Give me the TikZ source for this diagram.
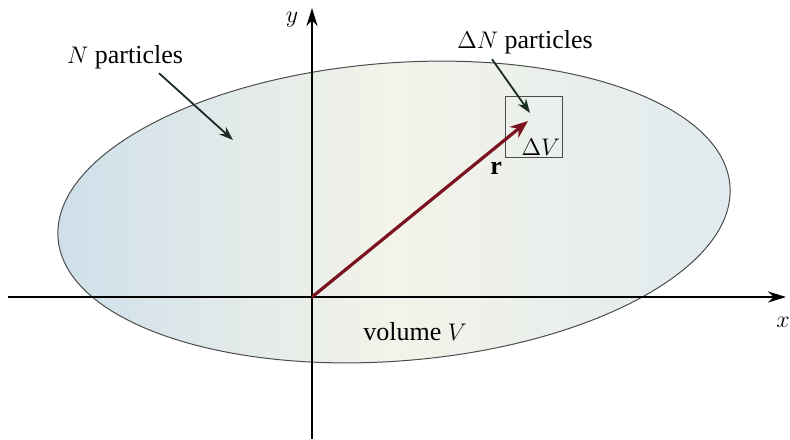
\documentclass[tikz,border=0pt]{standalone}
\usepackage{fontspec}
\setmainfont{Liberation Serif}
\usetikzlibrary{arrows.meta}
\definecolor{vecred}{RGB}{122,18,32}
\definecolor{leftblue}{RGB}{206,223,234}
\definecolor{midcream}{RGB}{243,243,233}
\definecolor{rightblue}{RGB}{224,234,238}
\definecolor{pointer}{RGB}{25,45,35}
\begin{document}
\begin{tikzpicture}[x=0.5pt,y=-0.5pt]
\tikzstyle{lbl} = [font=\fontsize{13}{15}\selectfont,inner sep=1pt] %texte
\tikzstyle{axe} = [line width=1.3pt,-{Stealth[length=9pt,width=5.5pt]}]
\tikzstyle{fleche} = [line width=0.9pt,color=pointer,-{Stealth[length=7pt,width=5pt]}]
\useasboundingbox (0,0) rectangle (790,439);

%le volume
\shade[left color=leftblue,right color=rightblue,middle color=midcream,draw=black!70,line width=0.5pt,
  rotate around={4.5:(394,212)}] (394,212) ellipse (337 and 149);

%points
\coordinate (O) at (312,297);
\coordinate (xs) at (8,297);
\coordinate (xe) at (786,297);
\coordinate (ys) at (312,439);
\coordinate (ye) at (312,8);
\coordinate (Ntip) at (233,140);
\coordinate (dNtip) at (530,113);
\coordinate (rtip) at (528,121);

%les axes
\draw[axe] (xs)--(xe);
\draw[axe] (ys)--(ye);
\node[lbl] (xl) at (783,322) {$x$};
\node[lbl] (yl) at (292,20) {$y$};

%petit volume
\node[draw=black!70,line width=0.5pt,minimum width=28.5pt,minimum height=30.5pt,inner sep=0pt] (dV) at (533.5,126.5) {};
\node[lbl,anchor=south east] (dVl) at (dV.south east) {$\Delta V$};

%textes
\node[lbl] (Nl) at (125,57) {$N$ particles};
\node[lbl] (dNl) at (525,42) {$\Delta N$ particles};
\node[lbl] (vol) at (415,332) {volume $V$};

%vecteur r
\draw[line width=1.6pt,color=vecred,-{Stealth[length=9pt,width=7pt]}] (O)--(rtip)
  node[lbl,text=black,pos=0.8,below right=1pt] (rl) {$\mathbf{r}$};

%fleches
\draw[fleche] (Nl.south)++(34,2)--(Ntip);
\draw[fleche] (dNl.south)++(-33,3)--(dNtip);
\end{tikzpicture}
\end{document}
